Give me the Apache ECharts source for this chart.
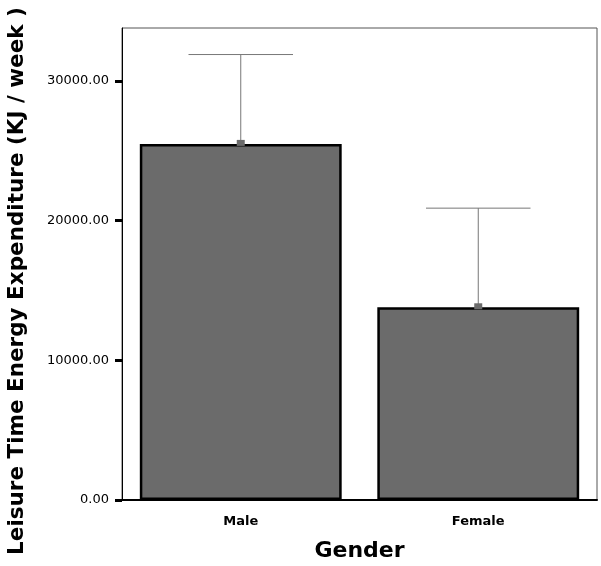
<!DOCTYPE html>
<html><head><meta charset="utf-8">
<script src="https://cdn.jsdelivr.net/npm/echarts@6/dist/echarts.min.js"></script>
<style>html,body{margin:0;padding:0;background:#fff}#c{width:601px;height:566px}</style>
</head><body><div id="c"></div>
<script>
var categories = ['Male', 'Female'];
var means = [25500, 13800];
var upper = [31900, 20900];
var yTicks = [0, 10000, 20000, 30000];

var chart = echarts.init(document.getElementById('c'));
var errData = categories.map(function (c, i) { return [i, means[i], upper[i]]; });
chart.setOption({
  animation: false,
  backgroundColor: '#fff',
  grid: { left: 122, right: 4, top: 28, bottom: 66, outerBoundsMode: 'none', containLabel: false,
    show: true, borderColor: '#555', borderWidth: 1 },
  xAxis: {
    type: 'category', data: categories,
    axisLine: { lineStyle: { color: '#000', width: 2 } },
    axisTick: { alignWithLabel: true, length: 7, lineStyle: { color: '#000', width: 2 } },
    axisLabel: { color: '#000', fontFamily: 'DejaVu Sans', fontWeight: 'bold', fontSize: 13, margin: 15 },
    name: 'Gender', nameLocation: 'middle', nameGap: 40,
    nameTextStyle: { color: '#000', fontFamily: 'DejaVu Sans', fontWeight: 'bold', fontSize: 22 }
  },
  yAxis: {
    type: 'value', min: 0, max: 33800, interval: 10000,
    splitLine: { show: false },
    axisLine: { show: true, lineStyle: { color: '#000', width: 1 } },
    axisTick: { show: true, length: 7, customValues: yTicks, lineStyle: { color: '#000', width: 3 } },
    axisLabel: { customValues: yTicks, color: '#000', fontFamily: 'DejaVu Sans', fontSize: 13, margin: 13,
      formatter: function (v) { return v.toFixed(2); } },
    name: 'Leisure Time Energy Expenditure (KJ / week )', nameLocation: 'middle', nameGap: 94,
    nameTextStyle: { color: '#000', fontFamily: 'DejaVu Sans', fontWeight: 'bold', fontSize: 21.5, padding: [0, 0, 0, -34] }
  },
  series: [{
    type: 'bar', data: means, barWidth: '85%',
    itemStyle: { color: '#6b6b6b', borderColor: '#000', borderWidth: 2.5 }
  }, {
    type: 'custom', data: errData,
    renderItem: function (params, api) {
      var top = api.coord([api.value(0), api.value(2)]);
      var base = api.coord([api.value(0), api.value(1)]);
      var half = api.size([1, 0])[0] * 0.22;
      var st = { stroke: '#777', lineWidth: 1 };
      return { type: 'group', children: [
        { type: 'line', shape: { x1: top[0], y1: top[1], x2: base[0], y2: base[1] }, style: st },
        { type: 'line', shape: { x1: top[0] - half, y1: top[1], x2: top[0] + half, y2: top[1] }, style: st },
        { type: 'rect', shape: { x: base[0] - 4, y: base[1] - 4, width: 8, height: 6 }, style: { fill: '#6b6b6b' } }
      ]};
    },
    z: 5
  }]
});
</script></body></html>
